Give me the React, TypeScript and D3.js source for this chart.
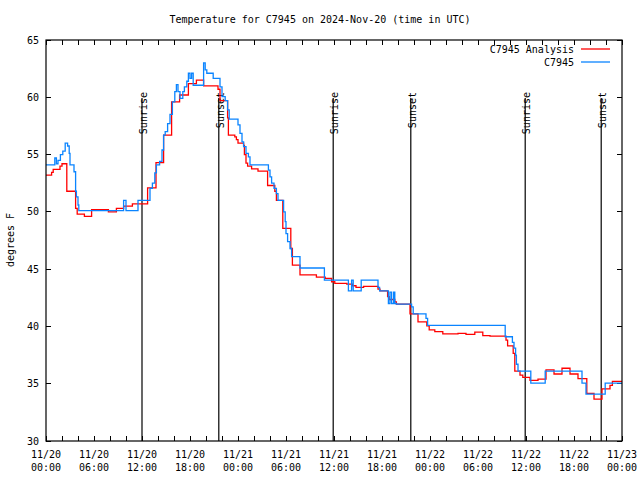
import React, { useEffect, useRef } from "react";
import * as d3 from "d3";

// hours since 2024-11-20 00:00 UTC, temperature in degrees F
const analysis: [number, number][] = [
  [0, 53.2], [0.7, 53.45], [0.9, 53.7], [1.75, 54.0], [2.0, 54.2], [2.6, 51.8],
  [3.7, 50.3], [3.9, 49.8], [4.8, 49.6], [5.7, 50.2], [7.8, 50.0], [8.8, 50.3],
  [9.7, 50.5], [10.8, 50.7], [12.7, 52.1], [13.75, 54.3], [14.7, 56.7], [15.7, 59.6],
  [16.7, 60.2], [17.8, 61.2], [18.8, 61.5], [19.7, 61.0], [21.5, 60.7], [21.75, 59.7],
  [22.7, 58.2], [22.8, 56.7], [23.6, 56.55], [23.8, 56.3], [24.0, 56.0], [24.7, 55.8],
  [24.8, 55.0], [25.0, 54.25], [25.2, 54.0], [25.7, 53.75], [26.5, 53.55], [27.7, 52.3],
  [28.6, 51.8], [28.8, 51.0], [29.6, 48.55], [30.6, 46.8], [30.8, 45.35], [31.75, 44.5],
  [33.8, 44.3], [34.9, 44.2], [35.7, 43.9], [36.1, 43.75], [37.6, 43.7], [38.3, 43.55],
  [38.75, 43.4], [39.7, 43.5], [41.5, 43.25], [41.75, 43.1], [42.7, 42.6], [42.9, 42.35],
  [43.6, 42.15], [43.8, 41.95], [45.5, 41.1], [46.5, 40.4], [47.6, 40.05], [47.9, 39.7],
  [48.6, 39.55], [49.6, 39.35], [51.5, 39.4], [52.5, 39.3], [53.6, 39.5], [54.6, 39.2],
  [55.5, 39.15], [57.5, 38.8], [57.7, 38.3], [58.4, 37.65], [58.6, 36.1], [59.25, 35.75],
  [59.6, 35.55], [60.5, 35.3], [61.5, 35.4], [62.5, 36.2], [63.5, 35.85], [64.5, 36.35],
  [65.5, 35.85], [66.5, 35.45], [67.6, 34.15], [68.5, 33.65], [69.5, 34.55], [70.5, 34.85],
  [70.8, 35.2], [72, 35.2],
];

const observed: [number, number][] = [
  [0, 54.1], [1.1, 54.7], [1.3, 54.2], [1.5, 54.5], [1.8, 55.0], [2.1, 55.3],
  [2.4, 56.0], [2.7, 55.75], [2.9, 55.1], [3.0, 54.1], [3.5, 53.5], [3.7, 51.8],
  [3.8, 51.3], [4.0, 50.6], [4.1, 50.1], [9.7, 51.0], [10.0, 50.1], [11.5, 51.0],
  [13.0, 52.05], [13.3, 52.5], [13.6, 53.4], [13.8, 54.1], [14.2, 54.4], [14.5, 55.4],
  [14.7, 56.7], [14.9, 57.0], [15.2, 57.7], [15.5, 58.5], [15.8, 59.6], [16.1, 60.5],
  [16.3, 61.1], [16.5, 60.5], [16.75, 59.9], [17.1, 60.5], [17.3, 60.9], [17.6, 61.4],
  [17.8, 62.1], [18.0, 61.65], [18.2, 62.1], [18.4, 61.05], [19.7, 63.0], [19.9, 62.4],
  [20.1, 62.1], [20.9, 61.65], [21.75, 60.9], [22.0, 60.05], [22.4, 59.7], [22.7, 58.9],
  [22.9, 58.1], [24.0, 57.6], [24.25, 56.85], [24.5, 56.1], [24.7, 55.7], [25.0, 55.1],
  [25.3, 54.8], [25.5, 54.1], [27.8, 53.65], [28.0, 53.05], [28.2, 52.5], [28.5, 52.05],
  [28.8, 51.6], [29.0, 51.0], [29.7, 50.0], [29.9, 49.15], [30.0, 48.1], [30.2, 47.4],
  [30.5, 46.8], [30.7, 46.1], [31.75, 45.1], [34.8, 44.05], [37.8, 43.1], [38.2, 44.05],
  [38.4, 43.1], [39.4, 44.05], [41.5, 43.4], [41.7, 43.1], [42.8, 42.0], [43.0, 43.0],
  [43.2, 42.0], [43.45, 43.0], [43.6, 42.0], [43.8, 41.95], [45.7, 41.7], [45.9, 41.1],
  [47.5, 40.7], [47.7, 40.1], [57.4, 39.1], [58.3, 38.6], [58.5, 38.1], [58.7, 37.5],
  [58.8, 36.7], [59.0, 36.1], [60.6, 35.05], [62.4, 36.1], [67.0, 35.05], [67.5, 34.1],
  [69.9, 35.05], [72, 35.05],
];

const sunEvents: { label: string; hour: number }[] = [
  { label: "Sunrise", hour: 12.0 },
  { label: "Sunset", hour: 21.6 },
  { label: "Sunrise", hour: 35.9 },
  { label: "Sunset", hour: 45.6 },
  { label: "Sunrise", hour: 59.9 },
  { label: "Sunset", hour: 69.4 },
];

const yTicks = [30, 35, 40, 45, 50, 55, 60, 65];
const xTickHours = [0, 6, 12, 18, 24, 30, 36, 42, 48, 54, 60, 66, 72];
const xTickDays = ["11/20", "11/20", "11/20", "11/20", "11/21", "11/21", "11/21", "11/21", "11/22", "11/22", "11/22", "11/22", "11/23"];
const xTickTimes = ["00:00", "06:00", "12:00", "18:00", "00:00", "06:00", "12:00", "18:00", "00:00", "06:00", "12:00", "18:00", "00:00"];

const FONT = "'DejaVu Sans Mono', monospace";

const App: React.FC = () => {
  const svgRef = useRef<SVGSVGElement | null>(null);

  useEffect(() => {
    if (!svgRef.current) return;
    const svg = d3.select(svgRef.current);
    svg.selectAll("*").remove();

    const left = 46, right = 622, top = 40, bottom = 441;

    const x = d3.scaleLinear().domain([0, 72]).range([left, right]);
    const y = d3.scaleLinear().domain([30, 65]).range([bottom, top]);

    svg.append("rect").attr("width", 640).attr("height", 480).attr("fill", "#fff");

    // title
    svg.append("text")
      .attr("x", 320).attr("y", 23)
      .attr("text-anchor", "middle")
      .attr("font-family", FONT).attr("font-size", 10)
      .text("Temperature for C7945 on 2024-Nov-20 (time in UTC)");

    // y label
    svg.append("text")
      .attr("transform", "translate(14,240) rotate(-90)")
      .attr("text-anchor", "middle")
      .attr("font-family", FONT).attr("font-size", 10)
      .text("degrees F");

    const ticks = svg.append("g").attr("stroke", "#000").attr("stroke-width", 1).attr("shape-rendering", "crispEdges");

    // y ticks (both sides)
    yTicks.forEach((v) => {
      ticks.append("line").attr("x1", left).attr("x2", left + 5).attr("y1", y(v)).attr("y2", y(v));
      ticks.append("line").attr("x1", right - 5).attr("x2", right).attr("y1", y(v)).attr("y2", y(v));
      svg.append("text")
        .attr("x", 39).attr("y", y(v)).attr("dy", "0.35em")
        .attr("text-anchor", "end")
        .attr("font-family", FONT).attr("font-size", 10)
        .text(String(v));
    });

    // x ticks every 2 hours (bottom and top)
    d3.range(0, 73, 2).forEach((h) => {
      ticks.append("line").attr("x1", x(h)).attr("x2", x(h)).attr("y1", bottom).attr("y2", bottom - 5);
      ticks.append("line").attr("x1", x(h)).attr("x2", x(h)).attr("y1", top).attr("y2", top + 5);
    });

    xTickHours.forEach((h, i) => {
      const t = svg.append("text")
        .attr("text-anchor", "middle")
        .attr("font-family", FONT).attr("font-size", 10);
      t.append("tspan").attr("x", x(h)).attr("y", 458).text(xTickDays[i]);
      t.append("tspan").attr("x", x(h)).attr("y", 471).text(xTickTimes[i]);
    });

    // sunrise / sunset markers
    sunEvents.forEach((e) => {
      svg.append("line")
        .attr("x1", x(e.hour)).attr("x2", x(e.hour))
        .attr("y1", 98).attr("y2", bottom)
        .attr("stroke", "#000").attr("stroke-width", 1.2);
      svg.append("text")
        .attr("transform", `translate(${x(e.hour) + 5},92) rotate(-90)`)
        .attr("text-anchor", "end")
        .attr("font-family", FONT).attr("font-size", 10)
        .text(e.label);
    });

    const line = d3
      .line<[number, number]>()
      .x((d) => x(d[0]))
      .y((d) => y(d[1]))
      .curve(d3.curveStepAfter);

    svg.append("path")
      .datum(analysis)
      .attr("fill", "none")
      .attr("stroke", "#ff0000")
      .attr("stroke-width", 1.3)
      .attr("d", line);

    svg.append("path")
      .datum(observed)
      .attr("fill", "none")
      .attr("stroke", "#0a84ff")
      .attr("stroke-width", 1.3)
      .attr("d", line);

    // border
    svg.append("rect")
      .attr("x", left).attr("y", top)
      .attr("width", right - left).attr("height", bottom - top)
      .attr("fill", "none").attr("stroke", "#000").attr("stroke-width", 1.2);

    // legend
    const legend = [
      { label: "C7945 Analysis", color: "#ff0000", y: 49 },
      { label: "C7945", color: "#0a84ff", y: 62 },
    ];
    legend.forEach((l) => {
      svg.append("text")
        .attr("x", 574).attr("y", l.y).attr("dy", "0.35em")
        .attr("text-anchor", "end")
        .attr("font-family", FONT).attr("font-size", 10)
        .text(l.label);
      svg.append("line")
        .attr("x1", 581).attr("x2", 610).attr("y1", l.y).attr("y2", l.y)
        .attr("stroke", l.color).attr("stroke-width", 1.3);
    });
  }, []);

  return (
    <svg
      ref={svgRef}
      width={640}
      height={480}
      style={{ position: "absolute", left: 0, top: 0 }}
    ></svg>
  );
};

export default App;
